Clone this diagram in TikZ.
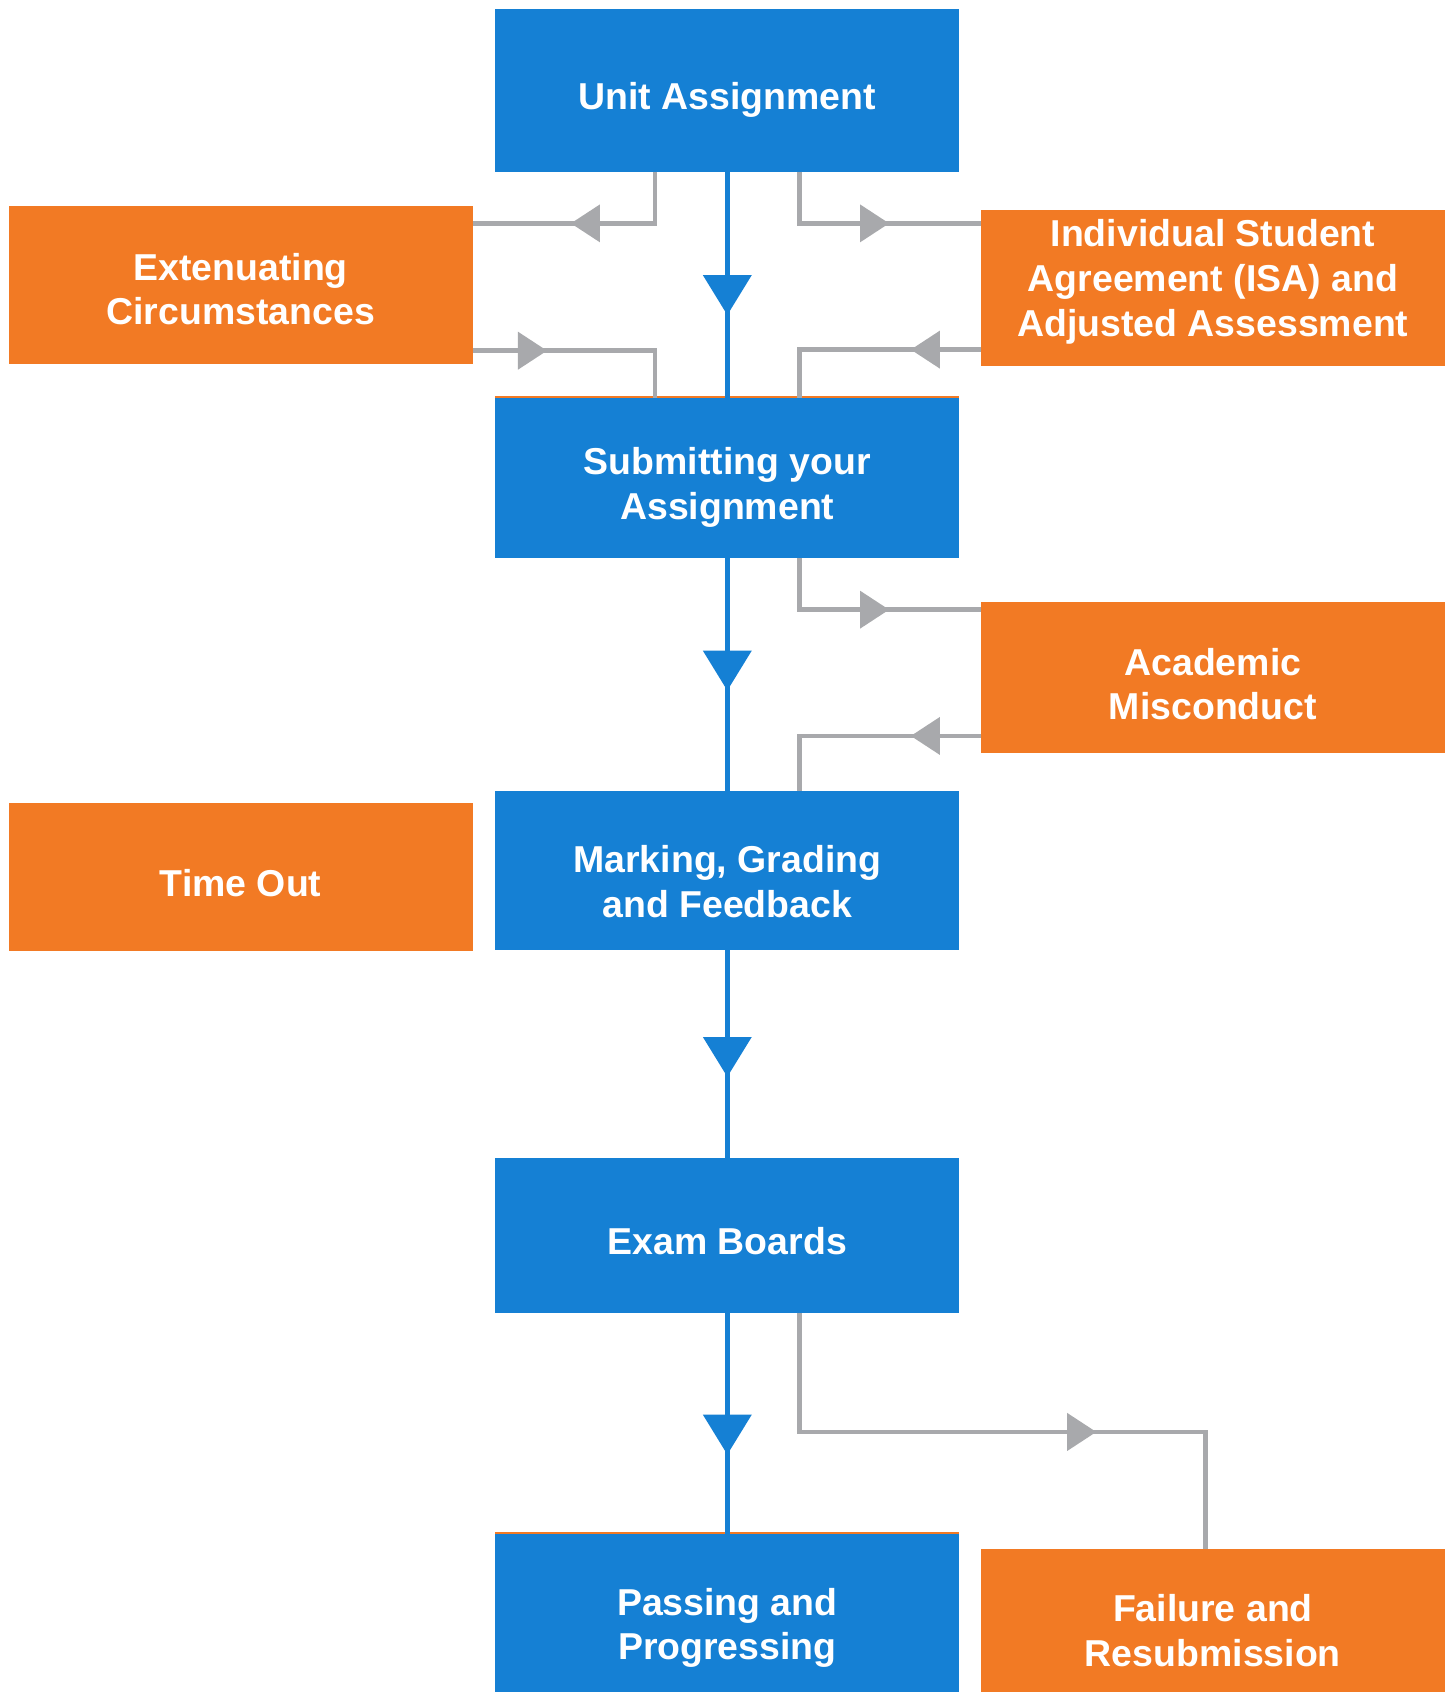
\documentclass[tikz,border=0pt]{standalone}
\usepackage{fontspec}
\setmainfont{Liberation Sans}
\usetikzlibrary{arrows.meta,decorations.markings}
\definecolor{bluec}{RGB}{21,128,212}
\definecolor{orangec}{RGB}{242,122,36}
\definecolor{grayc}{RGB}{168,169,172}
\newcommand{\boxfont}{\fontsize{34.7}{41.5}\selectfont\bfseries}
\tikzset{
  bbox/.style={fill=bluec, draw=none, inner sep=0pt, outer sep=0pt, minimum width=430pt},
  obox/.style={fill=orangec, draw=none, inner sep=0pt, outer sep=0pt, minimum width=430pt},
  lbl/.style={text=white, font=\boxfont, align=center, inner sep=0pt},
  blueline/.style={draw=bluec, line width=5pt},
  grayline/.style={draw=grayc, line width=4.5pt, line join=miter},
  bluetip/.style={postaction={decorate, decoration={markings,
      mark=at position #1 with {\arrow[bluec]{Triangle[length=37pt,width=44pt]}}}}},
  graytip/.style={postaction={decorate, decoration={markings,
      mark=at position #1 with {\arrow[grayc]{Triangle[length=27pt,width=34pt]}}}}},
}
\begin{document}
\begin{tikzpicture}[x=1pt,y=-1pt]
\useasboundingbox (0,0) rectangle (1347,1568);
\clip (0,0) rectangle (1347,1568);
\fill[white] (0,0) rectangle (1347,1568);

% boxes
\node[bbox, minimum height=151pt] (ua) at (674,83.5) {};
\node[obox, minimum height=146pt] (ext) at (223,264) {};
\node[obox, minimum height=144pt] (isa) at (1124,267) {};
\node[bbox, minimum height=148pt] (sub) at (674,443) {};
\node[obox, minimum height=140pt] (acad) at (1124,628) {};
\node[obox, minimum height=137pt] (tout) at (223,812.5) {};
\node[bbox, minimum height=147pt] (mark) at (674,806.5) {};
\node[bbox, minimum height=144pt] (exam) at (674,1145) {};
\node[bbox, minimum height=166pt] (pass) at (674,1505) {};
\node[obox, minimum height=150pt] (fail) at (1124,1510) {};

% thin orange top edges
\draw[orangec, line width=2pt] ([yshift=1pt]sub.north west) -- ([yshift=1pt]sub.north east);
\draw[orangec, line width=2pt] ([yshift=1pt]pass.north west) -- ([yshift=1pt]pass.north east);

% labels
\node[lbl] (ua-t) at (674,92.5) {Unit Assignment};
\node[lbl] (ext-t) at (223,268) {Extenuating\\Circumstances};
\node[lbl] (isa-t) at (1124,261) {Individual Student\\Agreement (ISA) and\\Adjusted Assessment};
\node[lbl] (sub-t) at (674,451.5) {Submitting your\\Assignment};
\node[lbl] (acad-t) at (1124,634) {Academic\\Misconduct};
\node[lbl] (tout-t) at (223,818) {Time Out};
\node[lbl] (mark-t) at (674,817) {Marking, Grading\\and Feedback};
\node[lbl] (exam-t) at (674,1150) {Exam Boards};
\node[lbl] (pass-t) at (674,1508.5) {Passing and\\Progressing};
\node[lbl] (fail-t) at (1124,1511) {Failure and\\Resubmission};

% main flow
\draw[blueline, bluetip=133pt] (ua.south) -- (sub.north);
\draw[blueline, bluetip=123pt] (sub.south) -- (mark.north);
\draw[blueline, bluetip=118pt] (mark.south) -- (exam.north);
\draw[blueline, bluetip=131pt] (exam.south) -- (pass.north);

% side connectors
\draw[grayline, graytip=126pt] ([xshift=-67pt]ua.south) |- ([yshift=-16pt]ext.north east);
\draw[grayline, graytip=69pt] ([yshift=12pt]ext.south east) -| ([xshift=-67pt]sub.north);
\draw[grayline, graytip=131pt] ([xshift=67pt]ua.south) |- ([yshift=-12pt]isa.north west);
\draw[grayline, graytip=65pt] ([yshift=15pt]isa.south west) -| ([xshift=67pt]sub.north);
\draw[grayline, graytip=131pt] ([xshift=67pt]sub.south) |- ([yshift=-7pt]acad.north west);
\draw[grayline, graytip=65pt] ([yshift=16pt]acad.south west) -| ([xshift=67pt]mark.north);
\draw[grayline, graytip=385pt] ([xshift=67pt]exam.south) -- ++(0,110) -| ([xshift=-7pt]fail.north);
\end{tikzpicture}
\end{document}
